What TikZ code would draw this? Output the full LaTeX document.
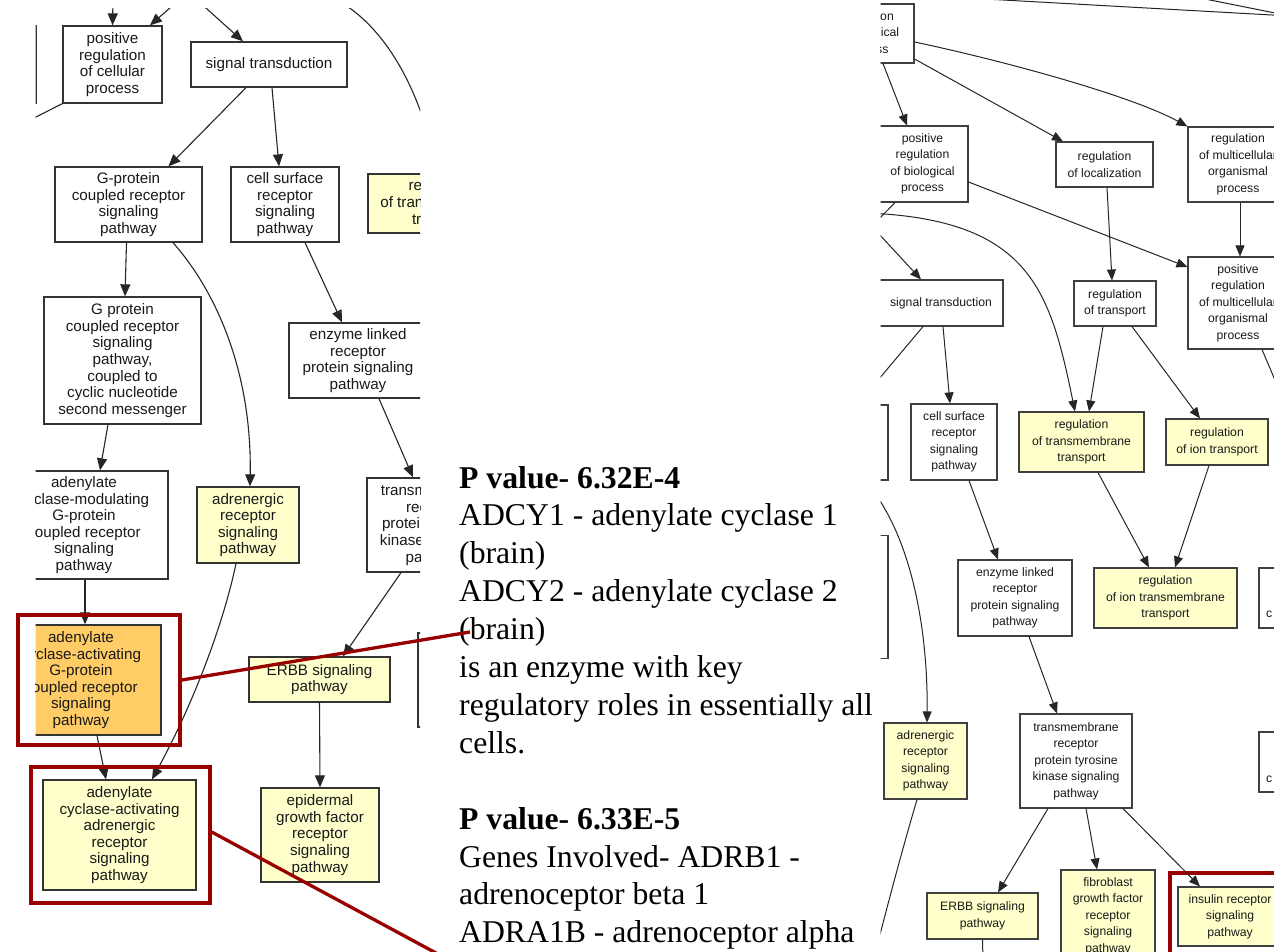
\documentclass[tikz,border=0pt]{standalone}
\usepackage{fontspec}
\setmainfont{Liberation Serif}
\newfontfamily\boxsans{Liberation Sans}
\usetikzlibrary{arrows.meta}
\definecolor{boxyellow}{HTML}{FFFFCC}
\definecolor{boxorange}{HTML}{FFCC66}
\definecolor{hlred}{HTML}{990000}
\newcommand\lfnt{\boxsans\fontsize{15.2}{16.6}\selectfont}
\newcommand\rfnt{\boxsans\fontsize{12.2}{16.5}\selectfont}
\newcommand\mfnt{\fontsize{31.7}{37.9}\selectfont}
\begin{document}
\begin{tikzpicture}[x=1pt,y=-1pt,
  lbox/.style={draw=black!80, line width=1.3pt, fill=white, rectangle, inner sep=1pt, align=center, font=\lfnt, text=black!90},
  rbox/.style={draw=black!75, line width=1.1pt, fill=white, rectangle, inner sep=1pt, align=center, font=\rfnt, text=black!90},
  yel/.style={fill=boxyellow},
  org/.style={fill=boxorange},
  larr/.style={draw=black!85, line width=1.1pt, -{Triangle[length=12pt,width=10pt]}},
  lline/.style={draw=black!85, line width=1.1pt},
  rarr/.style={draw=black!85, line width=1pt, -{Triangle[length=11pt,width=9pt]}},
  rline/.style={draw=black!85, line width=1pt},
  hl/.style={draw=hlred, line width=3.5pt, rectangle, inner sep=0pt},
  redline/.style={draw=hlred, line width=3.3pt},
  mtext/.style={anchor=base west, inner sep=0pt, font=\mfnt},
  mbold/.style={anchor=base west, inner sep=0pt, font=\mfnt\bfseries}
]
\useasboundingbox (0,0) rectangle (1274,952);
\fill[white] (0,0) rectangle (1274,952);

% ---------------- left panel ----------------
\begin{scope}
\clip (35.5,9) rectangle (420,952);
\node[lbox, minimum width=72pt, minimum height=77pt] (L0) at (0,64.5) {};
\node[lbox, minimum width=99pt, minimum height=77pt] (L1) at (112.5,64.5) {positive\\regulation\\of cellular\\process};
\node[lbox, minimum width=156pt, minimum height=45pt] (L2) at (269,64.5) {signal transduction};
\node[lbox, minimum width=147pt, minimum height=75pt] (L3) at (128.5,204.5) {G-protein\\coupled receptor\\signaling\\pathway};
\node[lbox, minimum width=108pt, minimum height=75pt] (L4) at (285,204.5) {cell surface\\receptor\\signaling\\pathway};
\node[lbox, yel, minimum width=148pt, minimum height=59pt] (L5) at (442,203.5) {regulation\\of transmembrane\\transport};
\node[lbox, minimum width=157pt, minimum height=127pt] (L6) at (122.5,360.5) {G protein\\coupled receptor\\signaling\\pathway,\\coupled to\\cyclic nucleotide\\second messenger};
\node[lbox, minimum width=138pt, minimum height=75pt] (L7) at (358,360.5) {enzyme linked\\receptor\\protein signaling\\pathway};
\node[lbox, minimum width=168pt, minimum height=108pt] (L8) at (84,525) {adenylate\\cyclase-modulating\\G-protein\\coupled receptor\\signaling\\pathway};
\node[lbox, yel, minimum width=102pt, minimum height=76pt] (L9) at (248,525) {adrenergic\\receptor\\signaling\\pathway};
\node[lbox, minimum width=134pt, minimum height=94pt] (L10) at (434,525) {transmembrane\\receptor\\protein tyrosine\\kinase signaling\\pathway};
\node[lbox, org, minimum width=160pt, minimum height=110pt] (L11) at (81,680) {adenylate\\cyclase-activating\\G-protein\\coupled receptor\\signaling\\pathway};
\node[lbox, yel, minimum width=153pt, minimum height=110pt] (L12) at (119.5,835) {adenylate\\cyclase-activating\\adrenergic\\receptor\\signaling\\pathway};
\node[lbox, yel, minimum width=141pt, minimum height=45pt] (L13) at (319.5,679.5) {ERBB signaling\\pathway};
\node[lbox, yel, minimum width=122pt, minimum height=94pt] (L14) at (479,680) {};
\node[lbox, yel, minimum width=118pt, minimum height=94pt] (L15) at (320,835) {epidermal\\growth factor\\receptor\\signaling\\pathway};

\coordinate (a1) at (113,0);
\coordinate (a2) at (179,0);
\coordinate (a3) at (197,0);
\coordinate (a4) at (20,125);
\coordinate (a5) at (335,-1);

\draw[larr] (a1) -- (L1.north);
\draw[larr] (a2) -- ([xshift=37.5pt]L1.north);
\draw[larr] (a3) -- ([xshift=-26pt]L2.north);
\draw[lline] (L1.south west) -- (a4);
\draw[larr] (a5) .. controls (385,25) and (420,90) .. ([xshift=-5pt]L5.north);
\draw[larr] ([xshift=-23pt]L2.south) -- ([xshift=40pt]L3.north);
\draw[larr] ([xshift=3pt]L2.south) -- ([xshift=-6pt]L4.north);
\draw[larr] ([xshift=-2pt]L3.south) -- ([xshift=2.5pt]L6.north);
\draw[larr] ([xshift=44.5pt]L3.south) .. controls (215,290) and (252,370) .. ([xshift=2pt]L9.north);
\draw[larr] ([xshift=20pt]L4.south) -- ([xshift=-16pt]L7.north);
\draw[larr] ([xshift=-14.5pt]L6.south) -- ([xshift=16pt]L8.north);
\draw[larr] ([xshift=21pt]L7.south) -- ([xshift=-21pt]L10.north);
\draw[larr] ([xshift=1pt]L8.south) -- ([xshift=4pt]L11.north);
\draw[larr] ([xshift=-12pt]L9.south) .. controls (222,630) and (190,710) .. ([xshift=32.5pt]L12.north);
\draw[larr] ([xshift=-33pt]L10.south) -- ([xshift=23.5pt]L13.north);
\draw[larr] ([xshift=16pt]L11.south) -- ([xshift=-13.5pt]L12.north);
\draw[larr] (L13.south) -- (L15.north);
\end{scope}

% ---------------- right panel ----------------
\begin{scope}
\clip (880.5,0) rectangle (1274,952);
\node[rbox, minimum width=96pt, minimum height=75pt] (R0a) at (840,442.5) {};
\node[rbox, minimum width=96pt, minimum height=123pt] (R0b) at (840,597) {};
\node[rbox, minimum width=94pt, minimum height=59pt] (R1) at (867,33.5) {regulation\\of biological\\process};
\node[rbox, minimum width=91pt, minimum height=76pt] (R2) at (922.5,164) {positive\\regulation\\of biological\\process};
\node[rbox, minimum width=97pt, minimum height=45pt] (R3) at (1104.5,164.5) {regulation\\of localization};
\node[rbox, minimum width=100pt, minimum height=75pt] (R4) at (1238,164.5) {regulation\\of multicellular\\organismal\\process};
\node[rbox, minimum width=100pt, minimum height=92pt] (R5) at (1238,303) {positive\\regulation\\of multicellular\\organismal\\process};
\node[rbox, minimum width=124pt, minimum height=46pt] (R6) at (941,303) {signal transduction};
\node[rbox, minimum width=82pt, minimum height=45pt] (R7) at (1115,303.5) {regulation\\of transport};
\node[rbox, minimum width=86pt, minimum height=76pt] (R8) at (954,442) {cell surface\\receptor\\signaling\\pathway};
\node[rbox, yel, minimum width=125pt, minimum height=60pt] (R9) at (1081.5,442) {regulation\\of transmembrane\\transport};
\node[rbox, yel, minimum width=102pt, minimum height=46pt] (R10) at (1217,442) {regulation\\of ion transport};
\node[rbox, minimum width=114pt, minimum height=76pt] (R11) at (1015,598) {enzyme linked\\receptor\\protein signaling\\pathway};
\node[rbox, yel, minimum width=143pt, minimum height=60pt] (R12) at (1165.5,598) {regulation\\of ion transmembrane\\transport};
\node[rbox, minimum width=102pt, minimum height=60pt] (R13) at (1310,598) {};
\node[anchor=base west, inner sep=0pt, font=\rfnt, text=black!90] (R13t) at (1266,617) {c};
\node[rbox, minimum width=102pt, minimum height=60pt] (R14) at (1310,762) {};
\node[anchor=base west, inner sep=0pt, font=\rfnt, text=black!90] (R14t) at (1266,782) {c};
\node[rbox, yel, minimum width=83pt, minimum height=76pt] (R16) at (925.5,761) {adrenergic\\receptor\\signaling\\pathway};
\node[rbox, minimum width=112pt, minimum height=94pt] (R17) at (1076,761) {transmembrane\\receptor\\protein tyrosine\\kinase signaling\\pathway};
\node[rbox, yel, minimum width=111pt, minimum height=46pt] (R18) at (982.5,916) {ERBB signaling\\pathway};
\node[rbox, yel, minimum width=94pt, minimum height=92pt] (R19) at (1108,916) {fibroblast\\growth factor\\receptor\\signaling\\pathway};
\node[rbox, yel, minimum width=104pt, minimum height=59pt] (R20) at (1230,916.5) {insulin receptor\\signaling\\pathway};
\node[hl, minimum width=140pt, minimum height=94pt] (H3) at (1240,920) {};

\coordinate (b1) at (1290,16);
\coordinate (b2) at (985,-1);
\coordinate (b3) at (1205,-1);
\coordinate (b4) at (875,223);
\coordinate (b5) at (868,213);
\coordinate (b6) at (866,220);
\coordinate (b7) at (868,392);
\coordinate (b8) at (1280,392);
\coordinate (b9) at (871,488);
\coordinate (b10) at (873,962);
\coordinate (b11) at (983,962);

\draw[rline] (b2) -- (b1);
\draw[rline] (b3) -- (b1);
\draw[rarr] ([xshift=16pt]R1.south) -- ([xshift=-15.5pt]R2.north);
\draw[rarr] ([yshift=-8.5pt]R1.east) .. controls (1000,60) and (1130,95) .. (R4.north west);
\draw[rarr] ([yshift=-25.5pt]R1.east) -- ([xshift=-41.5pt]R3.north);
\draw[rarr] ([xshift=2.5pt]R3.south) -- ([xshift=-3pt]R7.north);
\draw[rarr] ([xshift=2pt]R4.south) -- ([xshift=2pt]R5.north);
\draw[rarr] ([yshift=-18pt]R2.east) -- ([yshift=36pt]R5.west);
\draw[rline] ([xshift=-27.5pt]R2.south) -- (b4);
\draw[rarr] (b5) .. controls (1030,220) and (1050,290) .. ([xshift=-6.5pt]R9.north);
\draw[rarr] (b6) -- ([xshift=-20pt]R6.north);
\draw[rline] ([xshift=-18pt]R6.south) -- (b7);
\draw[rarr] ([xshift=2pt]R6.south) -- ([xshift=-4pt]R8.north);
\draw[rarr] ([xshift=-12pt]R7.south) -- ([xshift=7.5pt]R9.north);
\draw[rarr] ([xshift=17pt]R7.south) -- ([xshift=-17pt]R10.north);
\draw[rline] ([xshift=24pt]R5.south) -- (b8);
\draw[rarr] ([xshift=15pt]R8.south) -- ([xshift=-17pt]R11.north);
\draw[rarr] ([xshift=16.5pt]R9.south) -- ([xshift=-16.5pt]R12.north);
\draw[rarr] ([xshift=-8pt]R10.south) -- ([xshift=9.5pt]R12.north);
\draw[rarr] (b9) .. controls (915,545) and (928,640) .. ([xshift=1.5pt]R16.north);
\draw[rline] ([xshift=-8.5pt]R16.south) .. controls (905,840) and (890,895) .. (b10);
\draw[rarr] ([xshift=14pt]R11.south) -- ([xshift=-19pt]R17.north);
\draw[rarr] ([xshift=-28pt]R17.south) -- ([xshift=15.5pt]R18.north);
\draw[rarr] ([xshift=10pt]R17.south) -- ([xshift=-11pt]R19.north);
\draw[rarr] ([xshift=47pt]R17.south) -- ([xshift=-30pt]R20.north);
\draw[rline] (R18.south) -- (b11);
\end{scope}

% ---------------- middle text ----------------
\node[mbold] (m1) at (459,488) {P value- 6.32E-4};
\node[mtext] (m2) at (459,525.9) {ADCY1 - adenylate cyclase 1};
\node[mtext] (m3) at (459,563.8) {(brain)};
\node[mtext] (m4) at (459,601.7) {ADCY2 - adenylate cyclase 2};
\node[mtext] (m5) at (459,639.6) {(brain)};
\node[mtext] (m6) at (459,677.5) {is an enzyme with key};
\node[mtext] (m7) at (459,715.4) {regulatory roles in essentially all};
\node[mtext] (m8) at (459,753.3) {cells.};
\node[mbold] (m9) at (459,829.1) {P value- 6.33E-5};
\node[mtext] (m10) at (459,867) {Genes Involved- ADRB1 -};
\node[mtext] (m11) at (459,904.9) {adrenoceptor beta 1};
\node[mtext] (m12) at (459,942.8) {ADRA1B - adrenoceptor alpha};

% ---------------- highlights ----------------
\node[hl, minimum width=162pt, minimum height=130pt] (H1) at (99,680) {};
\node[hl, minimum width=179pt, minimum height=136pt] (H2) at (120.5,835) {};
\coordinate (c1) at (470,632);
\coordinate (c2) at (449,960);
\draw[redline] (H1.east) -- (c1);
\draw[redline] ([yshift=3pt]H2.east) -- (c2);
\end{tikzpicture}
\end{document}
